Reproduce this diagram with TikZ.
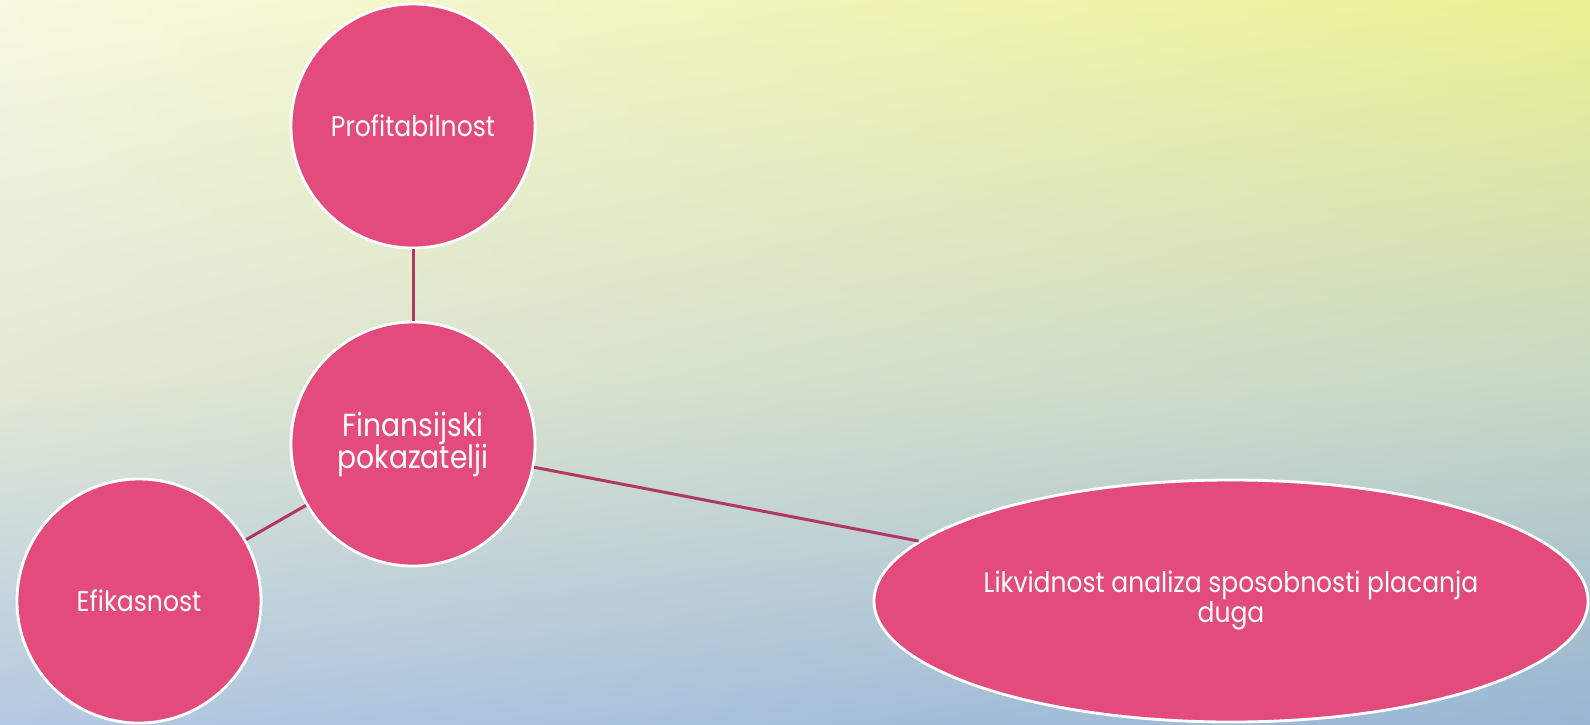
\documentclass[tikz,border=0pt]{standalone}
\usepackage{fontspec}
\setmainfont{Poppins}[FakeStretch=0.88]
\usetikzlibrary{shapes.geometric,shadings}
\definecolor{bgTL}{RGB}{247,249,224}
\definecolor{bgTR}{RGB}{236,241,145}
\definecolor{bgML}{RGB}{226,233,212}
\definecolor{bgMR}{RGB}{200,216,196}
\definecolor{bgBL}{RGB}{180,201,226}
\definecolor{bgBR}{RGB}{152,182,212}
\definecolor{nodepink}{RGB}{226,75,123}
\definecolor{linkcol}{RGB}{176,56,98}
\newcommand\tightlines{\lineskiplimit=-100pt\relax}
\begin{document}
\begin{tikzpicture}[x=1pt,y=-1pt,
  bubble/.style={circle, fill=nodepink, draw=white, line width=2.8pt,
    minimum size=244pt, inner sep=0pt, text=white, align=center,
    font=\fontsize{28.5}{30}\selectfont\tightlines},
  bigbubble/.style={bubble, font=\fontsize{32}{32}\selectfont\tightlines},
  oval/.style={ellipse, fill=nodepink, draw=white, line width=2.8pt,
    minimum width=714pt, minimum height=242pt, inner sep=0pt, text=white,
    align=center, font=\fontsize{28.4}{30}\selectfont\tightlines},
  link/.style={draw=linkcol, line width=3pt}]
\useasboundingbox (0,0) rectangle (1590,724);
\shade[upper left=bgTL, upper right=bgTR, lower left=bgML, lower right=bgMR]
  (0,0) rectangle (1590,381);
\shade[upper left=bgML, upper right=bgMR, lower left=bgBL, lower right=bgBR]
  (0,380) rectangle (1590,724);
\node[bubble] (prof) at (413,126) {Profitabilnost};
\node[bigbubble] (fin) at (413,444) {Finansijski\\pokazatelji};
\node[bubble] (efik) at (139,601) {Efikasnost};
\node[oval] (likv) at (1231,601) {Likvidnost analiza sposobnosti placanja\\duga};
\draw[link] (fin) -- (prof);
\draw[link] (fin) -- (efik);
\draw[link] (fin) -- (likv);
\end{tikzpicture}
\end{document}
